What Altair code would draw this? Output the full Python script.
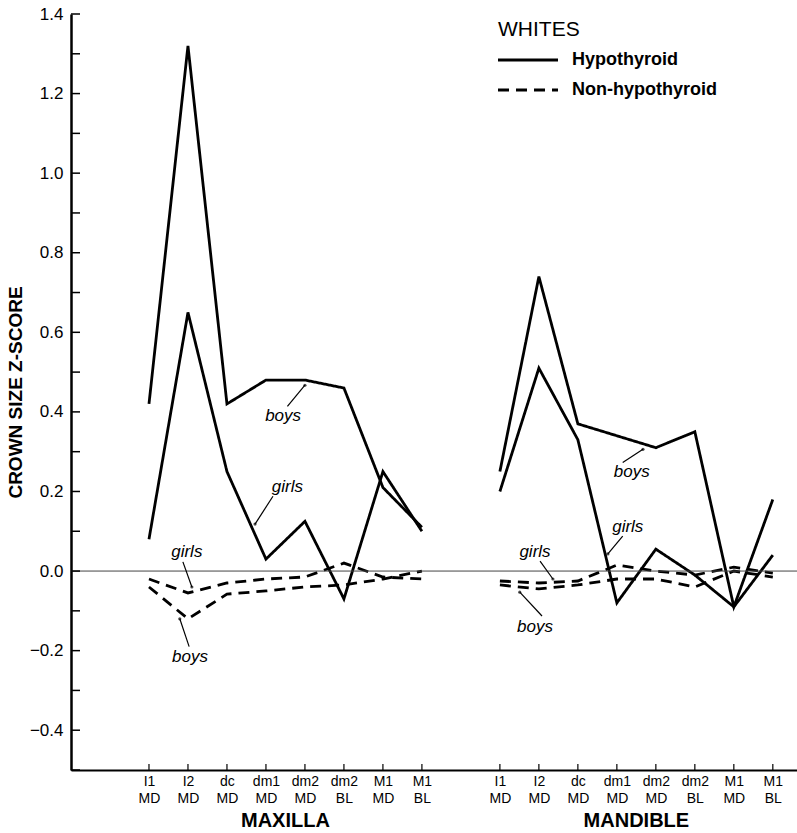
import altair as alt
import pandas as pd

# ---------------- data ----------------
teeth_line1 = ["I1", "I2", "dc", "dm1", "dm2", "dm2", "M1", "M1"]
teeth_line2 = ["MD", "MD", "MD", "MD", "MD", "BL", "MD", "BL"]
jaws = ["MAXILLA", "MANDIBLE"]
jaw_start = [0, 9]          # slot of first tooth of each jaw on the shared x scale

maxilla_hypo_boys = [0.42, 1.32, 0.42, 0.48, 0.48, 0.46, 0.21, 0.11]
maxilla_hypo_girls = [0.08, 0.65, 0.25, 0.03, 0.125, -0.07, 0.25, 0.10]
maxilla_non_boys = [-0.04, -0.12, -0.058, -0.05, -0.04, -0.035, -0.02, 0.0]
maxilla_non_girls = [-0.02, -0.055, -0.03, -0.02, -0.015, 0.02, -0.015, -0.02]

mandible_hypo_boys = [0.25, 0.74, 0.37, 0.34, 0.31, 0.35, -0.09, 0.18]
mandible_hypo_girls = [0.20, 0.51, 0.33, -0.08, 0.055, -0.01, -0.09, 0.04]
mandible_non_boys = [-0.035, -0.045, -0.035, -0.02, -0.02, -0.04, 0.0, -0.015]
mandible_non_girls = [-0.025, -0.03, -0.025, 0.015, 0.0, -0.01, 0.01, -0.005]

groups = ["Hypothyroid", "Non-hypothyroid"]
y_labels = [-0.4, -0.2, 0.0, 0.2, 0.4, 0.6, 0.8, 1.0, 1.2, 1.4]
y_minor = [-0.5, -0.4, -0.3, -0.2, -0.1, 0.0, 0.1, 0.2, 0.3, 0.4, 0.5,
           0.6, 0.7, 0.8, 0.9, 1.0, 1.1, 1.2, 1.3, 1.4]

# annotations: text, x slot, y value
ann_text = ["boys", "girls", "girls", "boys", "boys", "girls", "girls", "boys"]
ann_x = [3.44, 3.55, 0.97, 1.05, 12.38, 12.28, 9.9, 9.9]
ann_y = [0.39, 0.21, 0.048, -0.215, 0.248, 0.11, 0.048, -0.14]
# arrows: from (x, y) to (x2, y2)
arr_x = [3.55, 3.18, 0.87, 1.03, 12.15, 12.15, 10.03, 10.08]
arr_y = [0.414, 0.188, 0.023, -0.19, 0.273, 0.088, 0.025, -0.113]
arr_x2 = [4.0, 2.72, 1.1, 0.79, 12.67, 11.77, 10.36, 9.51]
arr_y2 = [0.467, 0.118, -0.04, -0.12, 0.306, 0.043, -0.02, -0.053]

# ---------------- tables ----------------
series = {
    ("MAXILLA", "boys", "Hypothyroid"): maxilla_hypo_boys,
    ("MAXILLA", "girls", "Hypothyroid"): maxilla_hypo_girls,
    ("MAXILLA", "boys", "Non-hypothyroid"): maxilla_non_boys,
    ("MAXILLA", "girls", "Non-hypothyroid"): maxilla_non_girls,
    ("MANDIBLE", "boys", "Hypothyroid"): mandible_hypo_boys,
    ("MANDIBLE", "girls", "Hypothyroid"): mandible_hypo_girls,
    ("MANDIBLE", "boys", "Non-hypothyroid"): mandible_non_boys,
    ("MANDIBLE", "girls", "Non-hypothyroid"): mandible_non_girls,
}
rows = []
for (jaw, sex, grp), vals in series.items():
    start = jaw_start[jaws.index(jaw)]
    for i, v in enumerate(vals):
        rows.append({"series": f"{jaw}-{sex}-{grp}", "group": grp,
                     "pos": start + i, "value": v})
df = pd.DataFrame(rows)

tick_pos = [s + i for s in jaw_start for i in range(len(teeth_line1))]
ticks_df = pd.DataFrame({"pos": tick_pos})
yminor_df = pd.DataFrame({"y": y_minor})
zero_df = pd.DataFrame({"y": [0.0]})
ann_df = pd.DataFrame({"t": ann_text, "x": ann_x, "y": ann_y})
arr_df = pd.DataFrame({"x": arr_x, "y": arr_y, "x2": arr_x2, "y2": arr_y2})
jaw_df = pd.DataFrame({"jaw": jaws,
                       "x": [s + (len(teeth_line1) - 1) / 2 for s in jaw_start]})

lab_js = "[" + ",".join(f"['{a}','{b}']" for a, b in zip(teeth_line1, teeth_line2)) + "]"
label_expr = f"{lab_js}[datum.value < 8 ? datum.value : datum.value - 9]"

FONT = "Liberation Sans"
W, H = 726, 756

xscale = alt.Scale(domain=[-2, 16.62], nice=False, zero=False)
yscale = alt.Scale(domain=[-0.5, 1.4], nice=False, zero=False)

x_axis = alt.Axis(values=tick_pos, labelExpr=label_expr, ticks=False, grid=False,
                  title=None, domainWidth=2, domainColor="black",
                  labelFont=FONT, labelFontSize=14, labelLineHeight=17,
                  labelPadding=4, labelColor="black", labelBaseline="top")
y_axis = alt.Axis(values=y_labels, format=".1f", ticks=False, grid=False,
                  title="CROWN SIZE Z-SCORE", titleFont=FONT, titleFontSize=19,
                  titleFontWeight="bold", titlePadding=4, titleColor="black",
                  domainWidth=2.5, domainColor="black",
                  labelFont=FONT, labelFontSize=17, labelPadding=8, labelColor="black")


def X(field):
    return alt.X(field, scale=xscale, axis=x_axis)


def Y(field):
    return alt.Y(field, scale=yscale, axis=y_axis)


dash_scale = alt.Scale(domain=groups, range=[[1, 0], [11, 7]])

lines = alt.Chart(df).mark_line(color="black", strokeWidth=2.8).encode(
    x=X("pos:Q"), y=Y("value:Q"),
    detail="series:N",
    order="pos:Q",
    strokeDash=alt.StrokeDash("group:N", scale=dash_scale, legend=None),
)

zero = alt.Chart(zero_df).mark_rule(color="#444", strokeWidth=1).encode(y=Y("y:Q"))

yticks = alt.Chart(yminor_df).mark_rule(color="black", strokeWidth=1.5).encode(
    y=Y("y:Q"), x=alt.value(0), x2=alt.value(9))

xticks = alt.Chart(ticks_df).mark_rule(color="black", strokeWidth=1.2).encode(
    x=X("pos:Q"), y=alt.value(H), y2=alt.value(H - 6))

ann = alt.Chart(ann_df).mark_text(font=FONT, fontSize=17, fontStyle="italic",
                                  color="black").encode(
    x=X("x:Q"), y=Y("y:Q"), text="t:N")

arrows = alt.Chart(arr_df).mark_rule(color="black", strokeWidth=1.2).encode(
    x=X("x:Q"), y=Y("y:Q"), x2="x2:Q", y2="y2:Q")

arrow_heads = alt.Chart(arr_df).mark_point(filled=True, color="black", size=10).encode(
    x=X("x2:Q"), y=Y("y2:Q"))

jaw_labels = alt.Chart(jaw_df).mark_text(font=FONT, fontSize=20, fontWeight="bold",
                                         color="black", baseline="middle").encode(
    x=X("x:Q"), y=alt.value(807), text="jaw:N")

leg_title = alt.Chart(pd.DataFrame({"t": ["WHITES"]})).mark_text(
    font=FONT, fontSize=21, align="left", baseline="middle", color="black").encode(
    x=alt.value(427), y=alt.value(16), text="t:N")

leg_layers = []
for grp, ypix in zip(groups, [46, 76]):
    d = pd.DataFrame({"group": [grp]})
    leg_layers.append(alt.Chart(d).mark_rule(color="black", strokeWidth=2.8).encode(
        x=alt.value(427), x2=alt.value(487), y=alt.value(ypix),
        strokeDash=alt.StrokeDash("group:N", scale=dash_scale, legend=None)))
    leg_layers.append(alt.Chart(d).mark_text(
        font=FONT, fontSize=18, fontWeight="bold", align="left",
        baseline="middle", color="black").encode(
        x=alt.value(501), y=alt.value(ypix), text="group:N"))

chart = alt.layer(
    lines, zero, yticks, xticks, ann, arrows, arrow_heads, jaw_labels,
    leg_title, *leg_layers
).properties(
    width=W, height=H,
    autosize=alt.AutoSizeParams(type="none"),
    padding={"left": 71, "top": 14, "right": 0, "bottom": 63},
    background="white",
).configure_view(stroke=None).configure_axis(grid=False)

chart.save("out.html", embed_options={"renderer": "svg", "actions": False})
